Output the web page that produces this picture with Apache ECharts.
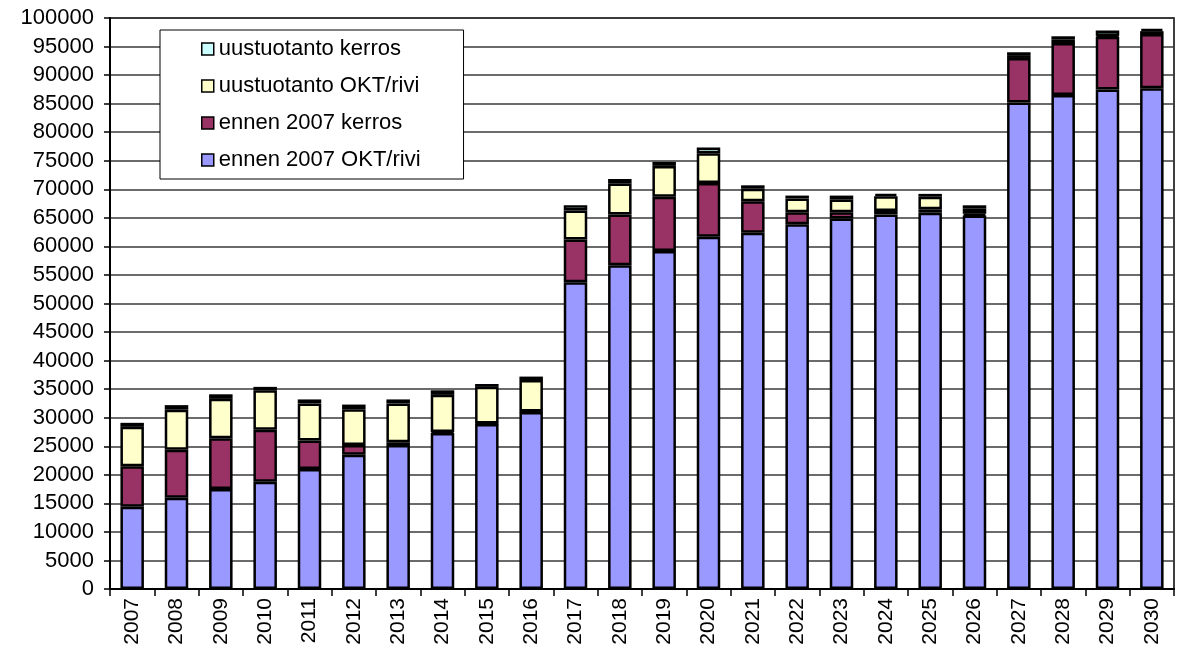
<!DOCTYPE html>
<html>
<head>
<meta charset="utf-8">
<script src="https://cdn.jsdelivr.net/npm/echarts@6/dist/echarts.min.js"></script>
<style>
	html,body{margin:0;padding:0;background:#fff;}
	#main{width:1180px;height:657px;}
</style>
</head>
<body>
<div id="main"></div>
<script>
var years = ['2007','2008','2009','2010','2011','2012','2013','2014','2015','2016','2017','2018',
	'2019','2020','2021','2022','2023','2024','2025','2026','2027','2028','2029','2030'];

// ennen 2007 OKT/rivi
var ennenOkt = [14400,16000,17500,18800,21000,23500,25200,27300,28900,31000,53700,56700,
	59200,61700,62400,63900,64900,65600,65900,65400,85200,86500,87500,87700];
// ennen 2007 kerros
var ennenKerros = [7100,8400,8900,9100,5000,1700,500,200,100,100,7500,8900,
	9500,9400,5500,2100,1100,600,600,300,7800,9100,9200,9500];
// uustuotanto OKT/rivi
var uusiOkt = [6900,7000,6900,6900,6500,6300,6800,6500,6400,5500,5100,5400,
	5400,5200,2200,2400,2200,2600,2200,900,500,600,200,500];
// uustuotanto kerros
var uusiKerros = [700,800,800,600,700,800,700,800,500,600,900,800,
	700,1000,600,500,700,400,500,600,500,600,900,400];

var seriesNames = ['ennen 2007 OKT/rivi','ennen 2007 kerros','uustuotanto OKT/rivi','uustuotanto kerros'];
var seriesColors = ['#9999FF','#993366','#FFFFCC','#CCFFFF'];
var seriesData = [ennenOkt, ennenKerros, uusiOkt, uusiKerros];

var font = 'Liberation Sans, Arial, sans-serif';

var seriesList = [];
for (var i = 0; i < seriesNames.length; i++) {
	seriesList.push({
		name: seriesNames[i],
		type: 'bar',
		stack: 'total',
		barWidth: '53%',
		itemStyle: {
			color: seriesColors[i],
			borderColor: '#000',
			borderWidth: 2.5
		},
		data: seriesData[i]
	});
}

var option = {
	animation: false,
	backgroundColor: '#fff',
	grid: {
		left: 110,
		right: 6,
		top: 18,
		bottom: 68,
		show: true,
		borderColor: '#000',
		borderWidth: 1.5
	},
	legend: {
		orient: 'vertical',
		left: 160,
		top: 30,
		data: ['uustuotanto kerros','uustuotanto OKT/rivi','ennen 2007 kerros','ennen 2007 OKT/rivi'],
		backgroundColor: '#fff',
		borderColor: '#000',
		borderWidth: 1,
		padding: [8, 43, 8, 41],
		itemGap: 15,
		itemWidth: 12,
		itemHeight: 12,
		icon: 'rect',
		itemStyle: {
			borderColor: '#000',
			borderWidth: 1.5
		},
		textStyle: {
			fontFamily: font,
			fontSize: 22,
			color: '#000'
		}
	},
	xAxis: {
		type: 'category',
		data: years,
		axisLine: { lineStyle: { color: '#000', width: 2 } },
		axisTick: { show: true, length: 7, lineStyle: { color: '#000', width: 1.5 } },
		axisLabel: {
			rotate: 90,
			interval: 0,
			margin: 9,
			fontFamily: font,
			fontSize: 21,
			color: '#000'
		}
	},
	yAxis: {
		type: 'value',
		min: 0,
		max: 100000,
		interval: 5000,
		axisLine: { show: true, lineStyle: { color: '#000', width: 2 } },
		axisTick: { show: true, length: 6, lineStyle: { color: '#000', width: 1.5 } },
		axisLabel: {
			margin: 16,
			fontFamily: font,
			fontSize: 22,
			color: '#000',
			formatter: function (v) { return String(v); }
		},
		splitLine: { lineStyle: { color: '#3a3a3a', width: 1.5 } }
	},
	series: seriesList
};

var chart = echarts.init(document.getElementById('main'));
chart.setOption(option);
</script>
</body>
</html>
